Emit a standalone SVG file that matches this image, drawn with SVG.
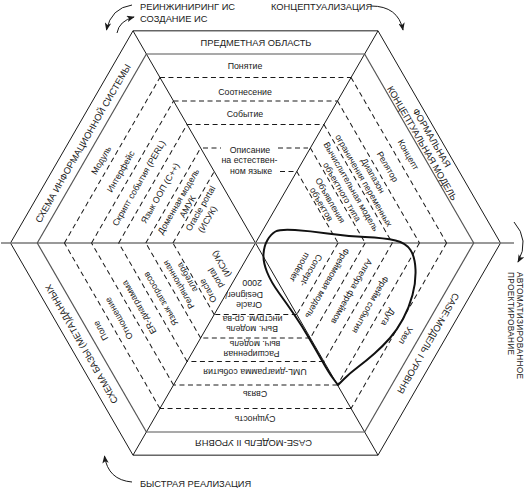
<svg xmlns="http://www.w3.org/2000/svg" width="528" height="488" viewBox="0 0 528 488">
<style>
text{font-family:"Liberation Sans",Arial,sans-serif;fill:#1a1a1a}
.tt{font-size:9.3px;text-anchor:middle}
.lb{font-size:8.8px;text-anchor:middle}
.ls{font-size:8.8px;text-anchor:start}
.ot{font-size:9.3px}
.sl{stroke:#1a1a1a;stroke-width:1;fill:none}
.gl{stroke:#555;stroke-width:1.2;fill:none}
.dl{stroke:#1a1a1a;stroke-width:1;stroke-dasharray:5 3.5;fill:none}
.ar{stroke:#1a1a1a;stroke-width:1;fill:none}
</style>
<defs>
<marker id="ah" viewBox="0 0 10 8" refX="9" refY="4" markerWidth="8" markerHeight="6.4" orient="auto" markerUnits="userSpaceOnUse">
<path d="M0,0 L10,4 L0,8 L2.5,4 z" fill="#1a1a1a"/>
</marker>
<g id="bands">
<line class="gl" x1="146.38" y1="54" x2="364.62" y2="54"/>
<line class="dl" x1="159.95" y1="77.5" x2="351.05" y2="77.5"/>
<line class="dl" x1="173.52" y1="101" x2="337.48" y2="101"/>
<line class="dl" x1="187.08" y1="124.5" x2="323.92" y2="124.5"/>
<line class="dl" x1="200.65" y1="148" x2="310.35" y2="148"/>
<line class="dl" x1="214.22" y1="171.5" x2="296.78" y2="171.5"/>
</g>
</defs>
<rect width="528" height="488" fill="#fff"/>

<g id="frame">
<polygon class="sl" points="133,30.83 378,30.83 500.5,243 378,455.17 133,455.17 10.5,243"/>
<line class="sl" x1="133" y1="30.83" x2="378" y2="455.17"/>
<line class="sl" x1="378" y1="30.83" x2="133" y2="455.17"/>
<line stroke="#777" stroke-width="1.4" x1="1" y1="243" x2="514" y2="243"/>
</g>

<g id="sector-predmet">
<line class="gl" x1="146.38" y1="54" x2="364.62" y2="54"/>
<line class="dl" x1="159.95" y1="77.5" x2="351.05" y2="77.5"/>
<line class="dl" x1="173.52" y1="101" x2="337.48" y2="101"/>
<line class="dl" x1="187.08" y1="124.5" x2="323.92" y2="124.5"/>
<line class="dl" x1="203" y1="148" x2="221" y2="148"/>
<line class="dl" x1="278" y1="148" x2="308" y2="148"/>
<line class="dl" x1="280" y1="171.5" x2="296.78" y2="171.5"/>
<text class="tt" x="256" y="46.3">ПРЕДМЕТНАЯ ОБЛАСТЬ</text>
<text class="lb" x="245" y="69">Понятие</text>
<text class="lb" x="245" y="94.5">Соотнесение</text>
<text class="lb" x="245" y="117">Событие</text>
<text class="lb" x="250" y="152.5">Описание</text>
<text class="lb" x="249.5" y="163">на естествен-</text>
<text class="lb" x="251" y="173.5">ном языке</text>
</g>

<g id="sector-formal" transform="rotate(60 255.5 243)">
<use href="#bands"/>
<text class="tt" x="252.5" y="41">ФОРМАЛЬНАЯ</text>
<text class="tt" x="252.5" y="52">КОНЦЕПТУАЛЬНАЯ МОДЕЛЬ</text>
<text class="lb" x="255.5" y="69.5">Концепт</text>
<text class="lb" x="255.5" y="93.5">Релятор</text>
<text class="lb" x="256" y="110.5">Диапазон</text>
<text class="lb" x="255.5" y="121">ограничения переменных</text>
<text class="lb" x="254.5" y="135">Вычислительная модель</text>
<text class="lb" x="254.5" y="145.5">объектного типа</text>
<text class="lb" x="256" y="160">Объявления</text>
<text class="lb" x="255" y="169.5">объектов</text>
</g>

<g id="sector-case1" transform="rotate(120 255.5 243)">
<use href="#bands"/>
<text class="tt" x="256" y="46.5">CASE-МОДЕЛЬ I УРОВНЯ</text>
<text class="lb" x="260.5" y="69.5">Узел</text>
<text class="lb" x="253.5" y="94">Дуга</text>
<text class="lb" x="251.5" y="115.5">Фрейм события</text>
<text class="lb" x="249.5" y="138.5">Алгебра фреймов</text>
<text class="lb" x="254.5" y="163.5">Фреймовая модель</text>
<text class="lb" x="251.5" y="184">Concept-</text>
<text class="lb" x="254.5" y="195.5">modeler</text>
</g>

<g id="sector-case2" transform="rotate(180 255.5 243)">
<use href="#bands"/>
<text class="tt" x="257.5" y="46.5">CASE-МОДЕЛЬ II УРОВНЯ</text>
<text class="lb" x="256" y="70">Сущность</text>
<text class="lb" x="256" y="95.5">Связь</text>
<text class="lb" x="256" y="117.5">UML-диаграмма события</text>
<text class="lb" x="259.5" y="135">Расширенная</text>
<text class="lb" x="256" y="145">выч. модель</text>
<text class="lb" x="259" y="160">Выч. модель</text>
<text class="lb" x="258.5" y="170">инструм. ср-ва</text>
<text class="ls" x="249" y="184">Oracle</text>
<text class="ls" x="248" y="194.5">Designer/</text>
<text class="ls" x="249" y="206">2000</text>
</g>

<g id="sector-db" transform="rotate(240 255.5 243)">
<use href="#bands"/>
<text class="tt" x="255" y="45">СХЕМА БАЗЫ (МЕТА)ДАННЫХ</text>
<text class="lb" x="257" y="68">Поле</text>
<text class="lb" x="258.5" y="90">Отношение</text>
<text class="lb" x="258" y="113">ER-диаграмма</text>
<text class="lb" x="254.5" y="136">Язык запросов</text>
<text class="lb" x="258" y="158.5">Реляционная</text>
<text class="lb" x="260" y="169.5">алгебра</text>
<text class="ls" x="225" y="181">Oracle</text>
<text class="ls" x="234" y="194">portal</text>
<text class="ls" x="240" y="206">(ИСУК)</text>
</g>

<g id="sector-is" transform="rotate(300 255.5 243)">
<use href="#bands"/>
<text class="tt" x="255.5" y="47">СХЕМА ИНФОРМАЦИОННОЙ СИСТЕМЫ</text>
<text class="lb" x="250" y="71">Модуль</text>
<text class="lb" x="250" y="93.5">Интерфейс</text>
<text class="lb" x="249" y="115">Скрипт события (PERL)</text>
<text class="lb" x="251" y="138.5">Язык ООП (C++)</text>
<text class="lb" x="253" y="158.5">Доменная модель</text>
<text class="lb" x="253" y="169">АМУК</text>
<text class="lb" x="258" y="181">Oracle portal</text>
<text class="lb" x="252" y="192.5">(ИСУК)</text>
</g>

<g id="lasso">
<path d="M275.5,231.5 Q280,229 295,230 Q310,231 327.5,233.5 Q345,236 365,237 Q385,238 395.5,240.5 Q406,243 410.5,250 Q415,257 415.5,269.5 Q416,282 412.5,295 Q409,308 403,319 Q397,330 390,338 Q383,346 374.5,353.5 Q366,361 358,367 Q350,373 344,379 L338,385 L333.5,379 Q329,373 322.5,361.5 Q316,350 309,338 Q302,326 294.5,315 Q287,304 279,293 Q271,282 267,272 Q263,262 263.5,254 Q264,246 267.5,240 Q271,234 275.5,231.5 Z" fill="none" stroke="#111" stroke-width="2" stroke-linejoin="round"/>
</g>

<g id="connectors">
<path class="ar" d="M132,5 Q111,8 106.5,30" marker-end="url(#ah)"/>
<path class="ar" d="M117,33 Q119,21 134,17" marker-end="url(#ah)"/>
<path class="ar" d="M371,6 Q398,6 403,30" marker-end="url(#ah)"/>
<path class="ar" d="M514,222 Q530,240 518,262" marker-end="url(#ah)"/>
<path class="ar" d="M132,482 Q108,480 104.5,456" marker-end="url(#ah)"/>
</g>

<g id="outer-labels">
<text class="ot" x="140" y="9.5">РЕИНЖИНИРИНГ ИС</text>
<text class="ot" x="140" y="21.5">СОЗДАНИЕ ИС</text>
<text class="ot" x="271" y="9.5">КОНЦЕПТУАЛИЗАЦИЯ</text>
<text class="ot" x="140" y="486.5">БЫСТРАЯ РЕАЛИЗАЦИЯ</text>
<text class="ot" style="font-size:8.3px;letter-spacing:0.3px" transform="translate(516.5,272) rotate(90)">АВТОМАТИЗИРОВАННОЕ</text>
<text class="ot" style="font-size:8.3px;letter-spacing:0.3px" transform="translate(508,272) rotate(90)">ПРОЕКТИРОВАНИЕ</text>
</g>
</svg>
